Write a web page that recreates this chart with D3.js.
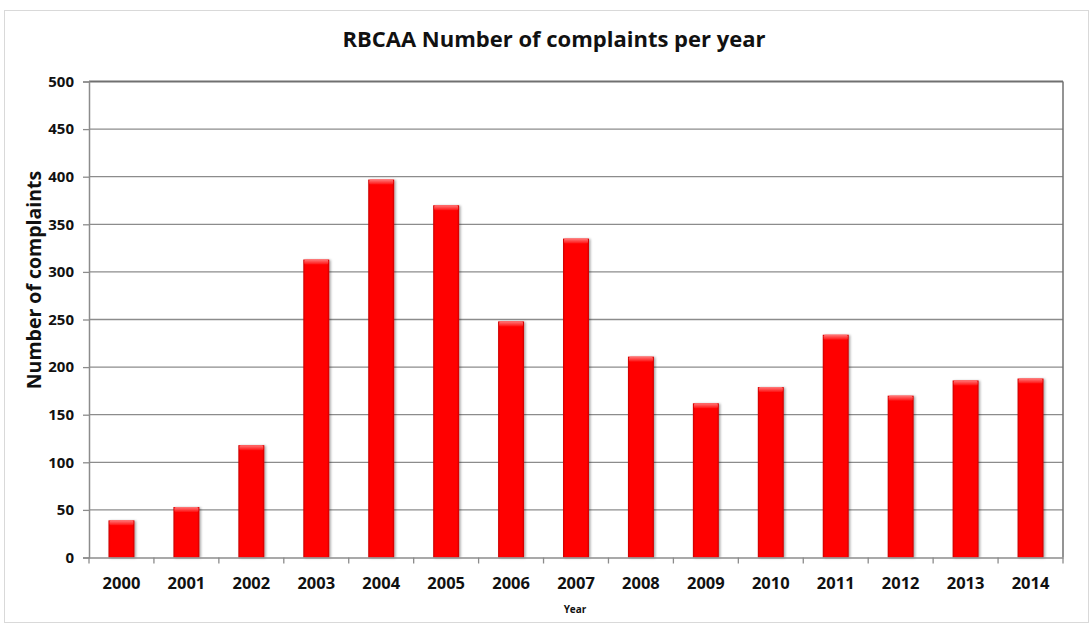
<!DOCTYPE html>
<html><head><meta charset="utf-8">
<script src="https://cdn.jsdelivr.net/npm/d3@7"></script>
<style>body{margin:0;background:#fff;} svg{display:block;}</style>
</head><body>
<svg id="c" width="1090" height="625"></svg>
<script>
const years = ["2000","2001","2002","2003","2004","2005","2006","2007","2008","2009","2010","2011","2012","2013","2014"];
const complaints = [39,53,118,313,397,370,248,335,211,162,179,234,170,186,188];
const yTicks = [0,50,100,150,200,250,300,350,400,450,500];

const svg = d3.select("#c");
const m = {l:89, r:1063, t:81.5, b:557.5};
const x = d3.scaleBand().domain(years).range([m.l, m.r]).paddingInner(0.6).paddingOuter(0.3);
const y = d3.scaleLinear().domain([0,500]).range([m.b, m.t]);

// outer frame
svg.append("rect").attr("x",4.5).attr("y",10.5).attr("width",1084).attr("height",612)
  .attr("fill","none").attr("stroke","#d9d9d9");

const defs = svg.append("defs");
const g1 = defs.append("linearGradient").attr("id","barH").attr("x1","0").attr("x2","1").attr("y1","0").attr("y2","0");
g1.append("stop").attr("offset","0").attr("stop-color","#c80000");
g1.append("stop").attr("offset","0.08").attr("stop-color","#ff0000");
g1.append("stop").attr("offset","0.92").attr("stop-color","#ff0000");
g1.append("stop").attr("offset","1").attr("stop-color","#c80000");
const g2 = defs.append("linearGradient").attr("id","barTop").attr("x1","0").attr("x2","0").attr("y1","0").attr("y2","1");
g2.append("stop").attr("offset","0").attr("stop-color","#ff7a7a");
g2.append("stop").attr("offset","1").attr("stop-color","#ff1010");
const f = defs.append("filter").attr("id","sh").attr("x","-20%").attr("y","-5%").attr("width","150%").attr("height","115%");
f.append("feDropShadow").attr("dx",1.5).attr("dy",0.5).attr("stdDeviation",1.2).attr("flood-color","#000").attr("flood-opacity",0.35);

// gridlines
svg.append("g").selectAll("line").data(yTicks.filter(d=>d>0)).join("line")
  .attr("x1",m.l).attr("x2",m.r).attr("y1",d=>y(d)).attr("y2",d=>y(d))
  .attr("stroke",d=>d===500?"#707070":"#8c8c8c").attr("stroke-width",d=>d===500?2:1.3);
// right border
svg.append("line").attr("x1",m.r).attr("x2",m.r).attr("y1",m.t).attr("y2",m.b).attr("stroke","#707070").attr("stroke-width",1.5);

// bars
const bars = svg.append("g").selectAll("g").data(years.map((yr,i)=>({yr, v:complaints[i]}))).join("g");
bars.append("rect").attr("x",d=>x(d.yr)).attr("y",d=>y(d.v)).attr("width",x.bandwidth())
  .attr("height",d=>y(0)-y(d.v)).attr("fill","url(#barH)").attr("filter","url(#sh)");
bars.append("rect").attr("x",d=>x(d.yr)+1).attr("y",d=>y(d.v)).attr("width",x.bandwidth()-2)
  .attr("height",5).attr("fill","url(#barTop)").attr("rx",1.5);

// y axis
const ya = svg.append("g").attr("transform",`translate(${m.l},0)`)
  .call(d3.axisLeft(y).tickValues(yTicks).tickSize(6).tickPadding(9));
ya.select(".domain").attr("stroke","#8c8c8c").attr("stroke-width",1.5);
ya.selectAll(".tick line").attr("stroke","#8c8c8c").attr("stroke-width",1.3);
ya.selectAll("text").attr("font-family","'Open Sans', sans-serif").attr("font-weight","bold")
  .attr("font-size","15px").attr("fill","#111");

// x axis
const xa = svg.append("g").attr("transform",`translate(0,${m.b})`)
  .call(d3.axisBottom(x).tickSize(0).tickPadding(20));
xa.select(".domain").attr("stroke","#8c8c8c").attr("stroke-width",1.5);
xa.selectAll("text").attr("font-family","'Open Sans', sans-serif").attr("font-weight","bold")
  .attr("font-size","16.5px").attr("fill","#111");
const step = x.step();
const bounds = d3.range(years.length+1).map(i=>m.l + i*step);
svg.append("g").selectAll("line").data(bounds).join("line")
  .attr("x1",d=>d).attr("x2",d=>d).attr("y1",m.b).attr("y2",m.b+6)
  .attr("stroke","#8c8c8c").attr("stroke-width",1.3);

// title
svg.append("text").attr("x",554).attr("y",47).attr("text-anchor","middle")
  .attr("font-family","'Open Sans', sans-serif").attr("font-weight","bold").attr("font-size","22px")
  .attr("fill","#111").text("RBCAA Number of complaints per year");
// y label
svg.append("text").attr("transform","translate(41,280) rotate(-90)").attr("text-anchor","middle")
  .attr("font-family","'Open Sans', sans-serif").attr("font-weight","bold").attr("font-size","19.5px")
  .attr("fill","#111").text("Number of complaints");
// x label
svg.append("text").attr("x",575).attr("y",613).attr("text-anchor","middle")
  .attr("font-family","'Open Sans', sans-serif").attr("font-weight","bold").attr("font-size","10px")
  .attr("fill","#111").text("Year");
</script>
</body></html>
